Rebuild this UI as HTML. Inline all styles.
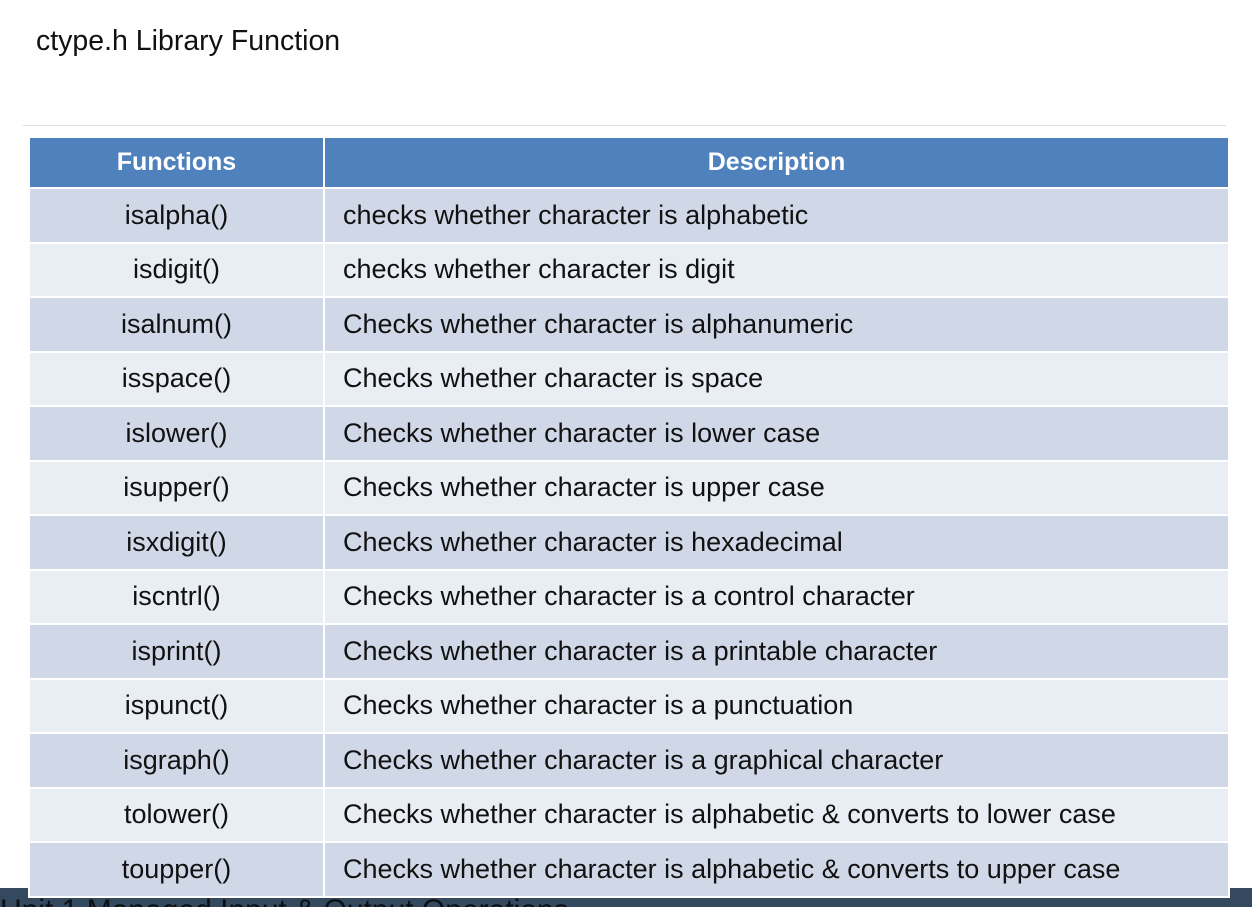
<!DOCTYPE html>
<html><head><style>
body{margin:0;width:1252px;height:907px;background:#fff;position:relative;overflow:hidden;font-family:"Liberation Sans",sans-serif;}
.title{position:absolute;left:36px;top:25px;font-size:28.5px;color:#111;}
.hr{position:absolute;left:23px;top:125px;width:1203px;height:1px;background:#ddd;}
.bar{position:absolute;left:0;top:888px;width:1252px;height:19px;background:#34495e;overflow:hidden;}
.bar span{position:absolute;left:0;top:6px;font-size:30px;color:#0b0f14;white-space:nowrap;}
table{position:absolute;left:28px;top:136px;width:1202px;border-collapse:collapse;table-layout:fixed;}
td,th{border:2px solid #fff;padding:0;font-size:27px;color:#111;font-weight:normal;}
th{background:#4f81bd;color:#fff;font-weight:bold;height:49px;font-size:25px;}
td{height:52.5px;}
td:first-child{text-align:center;}
td:last-child{padding-left:18px;}
tr:nth-child(even) td{background:#d0d8e8;}
tr:nth-child(odd) td{background:#e9edf4;}
</style></head><body>
<div class="title">ctype.h Library Function</div>
<div class="hr"></div>
<div class="bar"><span>Unit 1 Managed Input &amp; Output Operations</span></div>
<table>
<colgroup><col style="width:295px"><col></colgroup>
<tr><th>Functions</th><th>Description</th></tr>
<tr><td>isalpha()</td><td>checks whether character is alphabetic</td></tr>
<tr><td>isdigit()</td><td>checks whether character is digit</td></tr>
<tr><td>isalnum()</td><td>Checks whether character is alphanumeric</td></tr>
<tr><td>isspace()</td><td>Checks whether character is space</td></tr>
<tr><td>islower()</td><td>Checks whether character is lower case</td></tr>
<tr><td>isupper()</td><td>Checks whether character is upper case</td></tr>
<tr><td>isxdigit()</td><td>Checks whether character is hexadecimal</td></tr>
<tr><td>iscntrl()</td><td>Checks whether character is a control character</td></tr>
<tr><td>isprint()</td><td>Checks whether character is a printable character</td></tr>
<tr><td>ispunct()</td><td>Checks whether character is a punctuation</td></tr>
<tr><td>isgraph()</td><td>Checks whether character is a graphical character</td></tr>
<tr><td>tolower()</td><td>Checks whether character is alphabetic &amp; converts to lower case</td></tr>
<tr><td>toupper()</td><td>Checks whether character is alphabetic &amp; converts to upper case</td></tr>
</table>
</body></html>
